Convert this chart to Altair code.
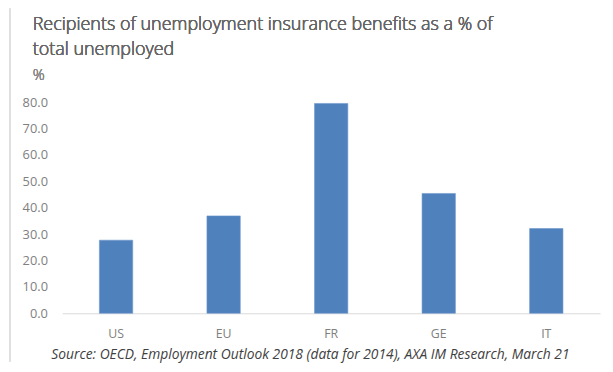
import altair as alt
import pandas as pd

countries = ["US", "EU", "FR", "GE", "IT"]
values = [27.7, 36.9, 79.5, 45.4, 32.1]
title_lines = ["Recipients of unemployment insurance benefits as a % of", "total unemployed"]
unit_label = "%"
source = "Source: OECD, Employment Outlook 2018 (data for 2014), AXA IM Research, March 21"
y_ticks = [0, 10, 20, 30, 40, 50, 60, 70, 80]

df = pd.DataFrame({"country": countries, "value": values})

FONT = "Open Sans"
W, H = 545, 214

bars = alt.Chart(df).mark_bar(color="#4F81BD", stroke="#6F98CC", strokeWidth=0.6).encode(
    x=alt.X(
        "country:N",
        sort=countries,
        scale=alt.Scale(paddingInner=0.69, paddingOuter=0.345),
        axis=alt.Axis(
            title=source,
            titleFont=FONT,
            titleFontSize=14,
            titleFontStyle="italic",
            titleFontWeight="normal",
            titleColor="#404040",
            titleX=251,
            titleY=42,
            titleAlign="center",
            titleBaseline="middle",
            labelFont=FONT,
            labelFontSize=12.5,
            labelColor="#808080",
            labelPadding=15,
            labelAngle=0,
            ticks=False,
            domainColor="#D9D9D9",
            domainWidth=1,
        ),
    ),
    y=alt.Y(
        "value:Q",
        scale=alt.Scale(domain=[0, 80], nice=False),
        axis=alt.Axis(
            title=None,
            values=y_ticks,
            format=".1f",
            labelFont=FONT,
            labelFontSize=13,
            labelColor="#808080",
            labelPadding=15,
            ticks=False,
            domain=False,
            grid=False,
        ),
    ),
)

border = alt.Chart(df).mark_rule(color="#E0E0E0", strokeWidth=1).encode(
    x=alt.value(-53), y=alt.value(-95), y2=alt.value(H + 49)
)

title1 = alt.Chart(df).mark_text(
    text=title_lines[0], font=FONT, fontSize=18.2, fontWeight=300, color="#666666",
    align="left", baseline="alphabetic"
).encode(x=alt.value(-30), y=alt.value(-73))
title2 = alt.Chart(df).mark_text(
    text=title_lines[1], font=FONT, fontSize=18.2, fontWeight=300, color="#666666",
    align="left", baseline="alphabetic"
).encode(x=alt.value(-30), y=alt.value(-48))
unit = alt.Chart(df).mark_text(
    text=unit_label, font=FONT, fontSize=15, fontWeight=300, color="#8A8A8A",
    align="left", baseline="alphabetic"
).encode(x=alt.value(-30), y=alt.value(-22))

chart = alt.layer(border, bars, title1, title2, unit).properties(
    width=W,
    height=H,
    background="white",
    padding={"left": 55, "top": 93, "right": 5, "bottom": 49},
    autosize=alt.AutoSizeParams(type="none"),
).configure_view(stroke="transparent", strokeWidth=0)

chart.save("out.html", embed_options={"renderer": "svg", "actions": False})
